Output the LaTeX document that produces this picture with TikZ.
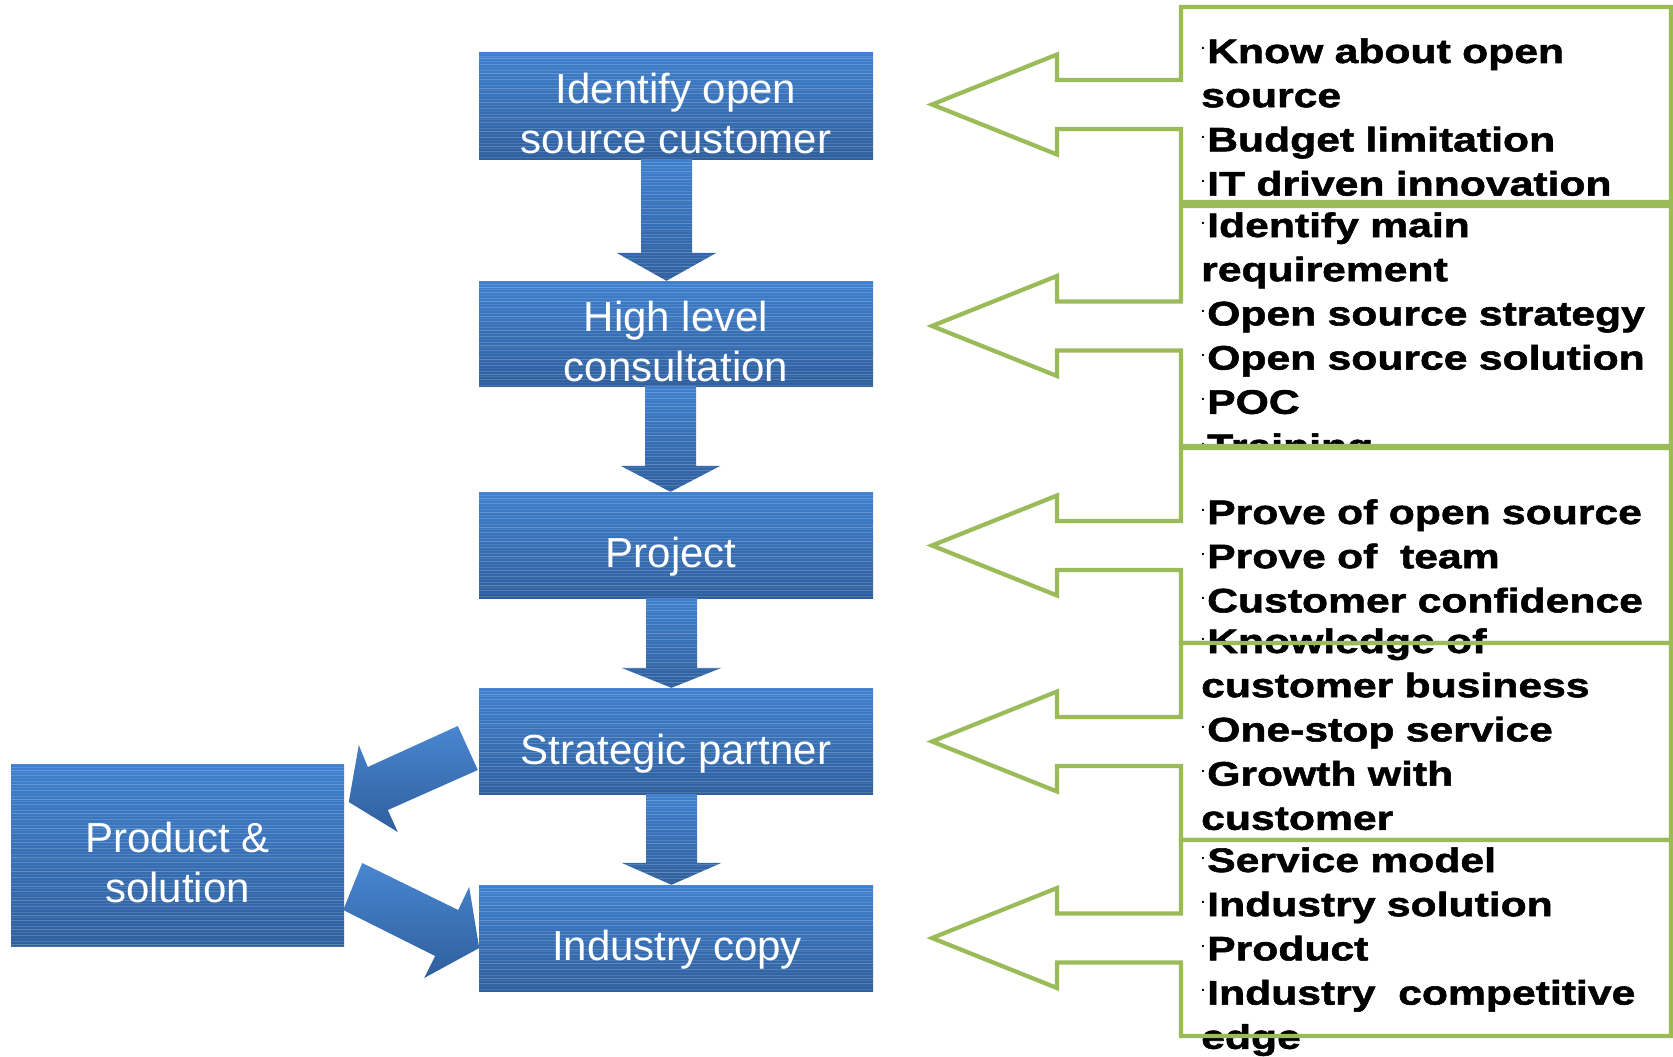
\documentclass[tikz,border=0pt]{standalone}
\usepackage{fontspec}
\setmainfont{Liberation Sans}
\newfontfamily\callfont[FakeStretch=1.255,FakeBold=1.6]{Liberation Sans}
\newfontfamily\dotfont{Liberation Sans}
\usetikzlibrary{calc}
\definecolor{boxtop}{RGB}{63,128,206}
\definecolor{boxbot}{RGB}{47,95,157}
\definecolor{callgreen}{RGB}{155,187,89}
\setlength{\parindent}{0pt}
\newcommand\bul{\makebox[6pt][l]{\raisebox{13pt}{\dotfont\fontsize{14}{14}\selectfont .}}}
\tikzset{
  stripes/.style={path picture={
    \foreach \k in {0,...,70}{
      \pgfmathsetmacro\op{0.06+0.16*mod(\k*7,5)/4}
      \draw[white, opacity=\op, line width=0.6pt]
        ([yshift=-\k*2.9pt]path picture bounding box.north west) --
        ([yshift=-\k*2.9pt]path picture bounding box.north east);
    }}},
  bluebox/.style={rectangle, inner sep=0pt, minimum width=394pt,
    top color=boxtop, bottom color=boxbot, stripes},
  boxtext/.style={text=white, font=\fontsize{42}{50}\selectfont, inner sep=0pt, anchor=base},
  arrowfill/.style={top color=boxtop, bottom color=boxbot, stripes},
  diagfill/.style={top color=boxtop!95!white, bottom color=boxbot},
  calltext/.style={anchor=base west, inner sep=0pt, text width=470pt, align=left,
    font=\callfont\bfseries\fontsize{34}{44.2}\selectfont},
  callline/.style={draw=callgreen, line width=4.2pt, line join=miter},
}
\newcommand\callout[5]{%
  \pgfmathsetmacro\cy{(#2+#3)/2}%
  \pgfmathsetmacro\ya{\cy-24.5}\pgfmathsetmacro\yb{\cy+24.5}%
  \pgfmathsetmacro\yc{\cy-50}\pgfmathsetmacro\yd{\cy+50}%
  \path[fill=white] (1181,#2) -- (1671,#2) -- (1671,#3) -- (1181,#3) -- (1181,\yb) -- (1057,\yb)
    -- (1057,\yd) -- (932,\cy) -- (1057,\yc) -- (1057,\ya) -- (1181,\ya) -- cycle;
  \node[calltext] (#1) at (1201,#4) {#5};
  \path[callline] (1181,#2) -- (1671,#2) -- (1671,#3) -- (1181,#3) -- (1181,\yb) -- (1057,\yb)
    -- (1057,\yd) -- (932,\cy) -- (1057,\yc) -- (1057,\ya) -- (1181,\ya) -- cycle;
}
\newcommand\vblock[4]{%
  \path[arrowfill] let \p1=($(#1.south)+(#3,0)$), \p2=($(#2.north)+(#3,0)$) in
    (\x1-25.5pt,\y1) -- (\x1+25.5pt,\y1) -- (\x1+25.5pt,\y2+#4pt) -- (\x1+50pt,\y2+#4pt)
    -- (\x1,\y2) -- (\x1-50pt,\y2+#4pt) -- (\x1-25.5pt,\y2+#4pt) -- cycle;
}
\begin{document}
\begin{tikzpicture}[x=1pt,y=-1pt]
\path[use as bounding box] (0,0) rectangle (1673,1057);

% blue boxes
\node[bluebox, minimum height=106pt] (b1) at (676,106) {};
\node[bluebox, minimum height=105pt] (b2) at (676,333.5) {};
\node[bluebox, minimum height=106pt] (b3) at (676,545) {};
\node[bluebox, minimum height=106pt] (b4) at (676,741) {};
\node[bluebox, minimum height=106pt] (b5) at (676,938) {};
\node[bluebox, minimum width=333pt, minimum height=182pt] (prod) at (177.5,855) {};

\node[boxtext] (b1t1) at (676,103) {Identify open};
\node[boxtext] (b1t2) at (676,153) {source customer};
\node[boxtext] (b2t1) at (676,331) {High level};
\node[boxtext] (b2t2) at (676,381) {consultation};
\node[boxtext] (b3t1) at (671,567) {Project};
\node[boxtext] (b4t1) at (676,764) {Strategic partner};
\node[boxtext] (b5t1) at (677,960) {Industry copy};
\node[boxtext] (pt1) at (177.5,852) {Product \&};
\node[boxtext] (pt2) at (177.5,902) {solution};

% down block arrows
\vblock{b1}{b2}{-9.5}{28}
\vblock{b2}{b3}{-5.5}{26}
\vblock{b3}{b4}{-4.5}{20}
\vblock{b4}{b5}{-4.5}{22}

% diagonal block arrows
\begin{scope}[shift={(b4.west)}]
  \path[diagfill] (-21,-15) -- (-111,26) -- (-120,4) -- (-130,61) -- (-81,91) -- (-91,69) -- (-1,29) -- cycle;
\end{scope}
\begin{scope}[shift={(prod.east)}]
  \path[diagfill] (18,8) -- (114,55) -- (125,32) -- (135,93) -- (80,123) -- (91,101) -- (-1,55) -- cycle;
\end{scope}

% callouts
\callout{c1}{7}{202}{63}{\bul Know about open\\ source\\ \bul Budget limitation\\ \bul IT driven innovation}
\callout{c2}{206}{446}{237}{\bul Identify main\\ requirement\\ \bul Open source strategy\\ \bul Open source solution\\ \bul POC\\ \bul Training}
\callout{c3}{448}{643}{524}{\bul Prove of open source\\ \bul Prove of\ \ team\\ \bul Customer confidence}
\callout{c4}{643}{840}{653}{\bul Knowledge of\\ customer business\\ \bul One-stop service\\ \bul Growth with\\ customer}
\callout{c5}{840}{1036}{872}{\bul Service model\\ \bul Industry solution\\ \bul Product\\ \bul Industry\ \ competitive\\ edge}
\end{tikzpicture}
\end{document}
